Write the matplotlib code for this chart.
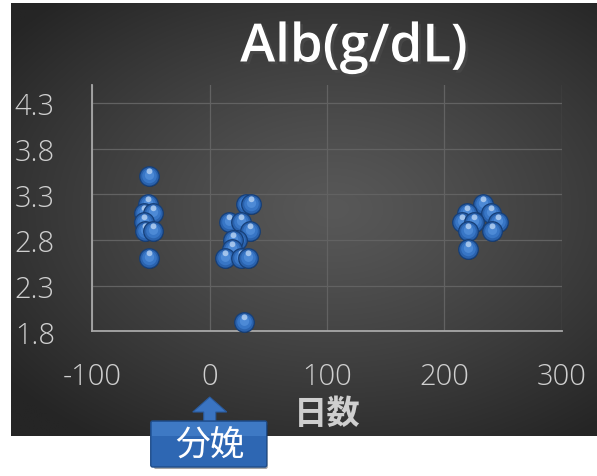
import numpy as np
import matplotlib
matplotlib.use("Agg")
import matplotlib.pyplot as plt
from matplotlib.path import Path
from matplotlib.markers import MarkerStyle
from matplotlib.patches import FancyBboxPatch, Polygon, Rectangle
import matplotlib.patheffects as pe

plt.rcParams["axes.unicode_minus"] = False

# アルブミン値 (分娩前・分娩後・後期)
days = [-52, -53, -56, -48, -56, -55, -48, -52,
        31, 35, 16, 27, 34, 23, 20, 19, 13, 27, 33, 29,
        233, 219, 240, 215, 225, 246, 220, 241, 220]
alb = [3.5, 3.2, 3.1, 3.1, 3.0, 2.9, 2.9, 2.6,
       3.2, 3.2, 3.0, 3.0, 2.9, 2.8, 2.8, 2.7, 2.6, 2.6, 2.6, 1.9,
       3.2, 3.1, 3.1, 3.0, 3.0, 3.0, 2.9, 2.9, 2.7]

xticks = [-100, 0, 100, 200, 300]
yticks = [1.8, 2.3, 2.8, 3.3, 3.8, 4.3]

W, H = 597, 477
fig = plt.figure(figsize=(W / 100, H / 100), dpi=100)
fig.patch.set_facecolor("white")

# 背景パネル (放射グラデーション)
bg = fig.add_axes([11 / W, 40 / H, 586 / W, 433 / H])
gx, gy = np.meshgrid(np.linspace(-1, 1, 300), np.linspace(-1, 1, 220))
r = np.sqrt(((gx - 0.1) / 1.1) ** 2 + ((gy + 0.05) / 1.0) ** 2)
r = np.clip(r / 1.3, 0, 1) ** 1.2
c0, c1 = np.array([0x58, 0x58, 0x58]) / 255, np.array([0x25, 0x25, 0x25]) / 255
img = c0[None, None, :] * (1 - r[..., None]) + c1[None, None, :] * r[..., None]
bg.imshow(img, aspect="auto", extent=(0, 1, 0, 1), interpolation="bilinear")
bg.set_axis_off()

ax = fig.add_axes([92.5 / W, (H - 332.3) / H, 469 / W, 246.3 / H])
ax.set_facecolor("none")
ax.set_xlim(-100, 300)
ax.set_ylim(1.8, 4.5)
ax.set_xticks(xticks)
ax.set_yticks(yticks)
ax.set_yticklabels([f"{v:.1f}" for v in yticks])
ax.grid(True, color="#626262", lw=0.9)
ax.set_axisbelow(True)
for s in ["top", "right"]:
    ax.spines[s].set_visible(False)
for s in ["left", "bottom"]:
    ax.spines[s].set_color("#a8a8a8")
    ax.spines[s].set_linewidth(1.3)
ax.tick_params(length=0, colors="#cfcfcf", labelsize=21)
ax.tick_params(axis="y", pad=27)
ax.tick_params(axis="x", pad=22)
for lab in ax.get_xticklabels() + ax.get_yticklabels():
    lab.set_family(["Open Sans", "DejaVu Sans"])
    lab.set_fontweight("light")


# 球体マーカー (共通の正規化枠を持つ円)
def ball(cx, cy, rad):
    circ = Path.circle((cx, cy), rad)
    frame = Path([[1, 1]], [Path.MOVETO])
    return MarkerStyle(Path.make_compound_path(frame, circ))


layers = [
    (ball(0.05, -0.12, 1.0), "#000000", 0.35),
    (ball(0, 0, 1.0), "#163f78", 1.0),
    (ball(0, 0, 0.88), "#2a62ad", 1.0),
    (ball(0, 0.05, 0.7), "#3876c6", 1.0),
    (ball(0, 0.12, 0.45), "#4d8ad6", 1.0),
    (ball(0, 0.5, 0.28), "#b9d3f2", 0.8),
]
size = 225
for x, y in zip(days, alb):
    for mk, col, a in layers:
        ax.scatter([x], [y], s=size, marker=mk, color=col, alpha=a,
                   linewidths=0, zorder=3, clip_on=False)

ax.set_xlabel("日数", family=["Noto Sans CJK JP"], fontweight="bold",
              fontsize=24, color="#cfcfcf", labelpad=4)

fig.text(354 / W, 1 - 49 / H, "Alb(g/dL)", ha="center", va="center",
         fontsize=38, color="white", family=["Open Sans", "DejaVu Sans"],
         fontweight="semibold",
         path_effects=[pe.SimplePatchShadow(offset=(2, -2), alpha=0.6),
                       pe.Normal()])

# 分娩の矢印とラベル
ov = fig.add_axes([0, 0, 1, 1])
ov.set_xlim(0, W)
ov.set_ylim(H, 0)
ov.set_axis_off()
ov.patch.set_alpha(0)
x0 = ax.transData.transform((0, 0))[0] / fig.dpi * 100
ov.add_patch(Polygon([[x0 - 17, 413], [x0, 398], [x0 + 17, 413],
                      [x0 + 6, 413], [x0 + 6, 424], [x0 - 6, 424],
                      [x0 - 6, 413]], closed=True, fc="#3a74c2",
                     ec="#2a5b9e", lw=0.8, zorder=2))
ov.add_patch(FancyBboxPatch((x0 - 56, 425), 114, 45,
                            boxstyle="round,pad=0,rounding_size=2",
                            fc="#000000", alpha=0.35, ec="none", zorder=2))
ov.add_patch(FancyBboxPatch((x0 - 59, 422), 116, 46,
                            boxstyle="round,pad=0,rounding_size=2",
                            fc="#2e67b3", ec="#1f4d8a", lw=1, zorder=3))
ov.add_patch(Rectangle((x0 - 58, 423), 114, 14, fc="#4a86d0", ec="none",
                       alpha=0.6, zorder=3))
ov.text(x0, 446, "分娩", ha="center", va="center", fontsize=25,
        color="white", family=["Noto Sans CJK JP"], zorder=4)

fig.savefig("out.png", dpi=100, facecolor="white")
